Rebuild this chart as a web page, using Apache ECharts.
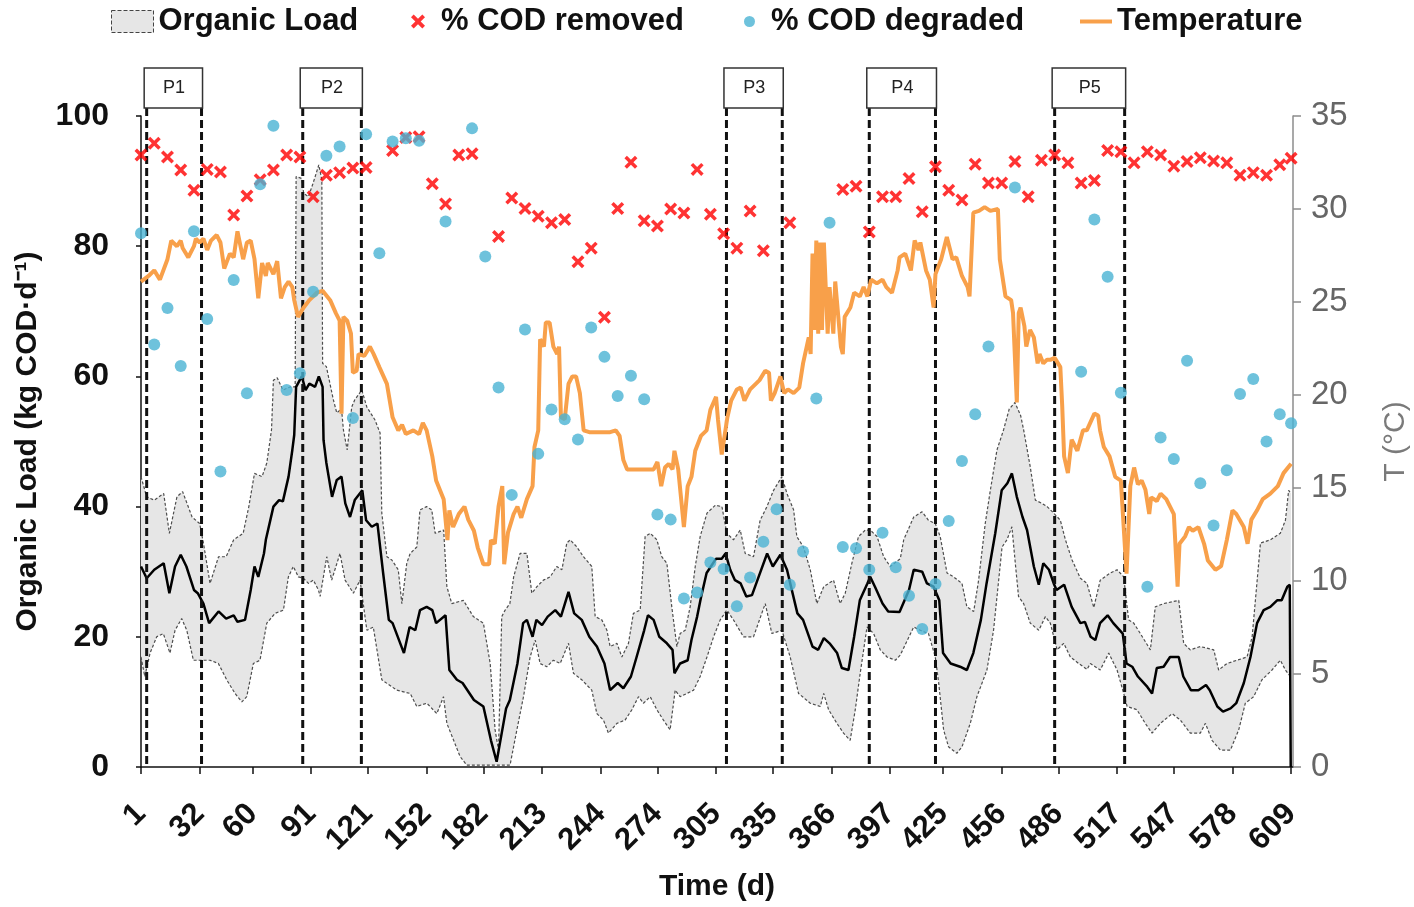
<!DOCTYPE html>
<html>
<head>
<meta charset="utf-8">
<script src="https://cdn.jsdelivr.net/npm/echarts@6/dist/echarts.min.js"></script>
<style>
  html, body { margin: 0; padding: 0; background: #fff; }
  #chart { width: 1414px; height: 907px; }
</style>
</head>
<body>
<div id="chart"></div>
<script>
// ---- data: [day, value] ----
const dayTicks = [1, 32, 60, 91, 121, 152, 182, 213, 244, 274, 305, 335, 366, 397, 425, 456, 486, 517, 547, 578, 609];

const periods = [
  { label: 'P1', start: 4, end: 33 },
  { label: 'P2', start: 86.5, end: 117.5 },
  { label: 'P3', start: 310.5, end: 340 },
  { label: 'P4', start: 386, end: 421 },
  { label: 'P5', start: 484, end: 521 }
];

// reactor temperature, °C
const temperature = [
  [1,26.1],[5,26.4],[8,26.7],[11,26.2],[15,27.3],[17,28.3],[20,28.0],[22,28.3],[23,27.9],[26,27.4],[29,28.0],[30,28.4],[32,28.2],[34,28.4],[36,27.8],[38,28.3],[41,28.6],[43,28.2],[45,26.8],[48,27.6],[50,27.4],[52,28.8],[55,27.3],[57,28.2],[59,28.3],[61,27.3],[63,25.2],[65,27.1],[67,26.4],[68,27.1],[71,26.5],[73,27.2],[75,25.2],[77,25.8],[79,26.1],[81,25.8],[82,25.1],[84,24.2],[87,24.7],[90,25.1],[94,25.5],[97,25.6],
  [101,25.1],[104,24.4],[106,24.0],[107,19.0],[108,24.2],[110,24.0],[112,23.3],[113,21.2],[115,21.3],[116,22.2],[119,22.1],[122,22.6],[124,22.2],[127,21.5],[131,20.6],[134,18.8],[137,18.1],[139,18.4],[141,17.9],[145,18.1],[148,17.9],[150,18.5],[152,18.1],[155,16.7],[157,15.4],[161,14.4],[163,12.2],[164,13.8],[166,12.9],[169,13.6],[172,14.0],[174,13.3],[177,12.7],[179,11.8],[182,10.9],[185,10.9],[186,12.2],[188,12.0],[190,14.0],[192,15.1],[193,10.9],[195,12.6],[198,13.6],
  [200,14.0],[202,13.4],[205,14.4],[208,15.1],[209,17.2],[211,18.1],[212,23.0],[214,22.6],[215,23.9],[217,23.9],[219,22.6],[221,22.2],[222,22.6],[223,18.8],[225,18.7],[227,20.6],[229,21.0],[231,21.0],[233,20.1],[235,18.1],[238,18.0],[249,18.0],[252,18.1],[254,17.8],[256,16.5],[258,16.0],[272,16.0],[274,16.4],[276,15.1],[278,16.1],[280,16.3],[282,16.0],[283,17.0],[285,16.0],[288,12.9],[290,15.1],[292,15.6],[294,17.0],[297,17.8],
  [300,18.1],[302,19.2],[305,19.9],[306,18.7],[308,16.8],[311,18.8],[313,19.7],[316,20.3],[318,20.4],[320,19.7],[323,20.3],[326,20.6],[328,20.8],[331,21.3],[333,21.2],[334,19.7],[336,20.1],[339,21.0],[341,20.1],[343,20.3],[346,20.1],[349,20.4],[351,21.7],[354,23.1],[355,22.2],[356,27.6],[357,23.5],[358,28.3],[359,23.3],[360,28.2],[361,23.5],[362,28.2],[364,23.3],[365,25.8],[367,23.3],[368,26.1],[371,22.6],[372,22.2],[373,24.2],[376,24.7],[378,25.5],[381,25.3],[383,25.8],[385,25.3],[387,26.2],[390,26.0],[393,26.2],[395,25.8],[398,25.5],
  [401,26.7],[402,27.4],[405,27.6],[408,26.7],[410,28.3],[412,27.8],[413,28.2],[416,26.7],[418,26.2],[420,24.7],[421,26.5],[424,27.3],[427,28.5],[430,27.3],[432,27.4],[435,26.4],[438,25.8],[439,25.3],[441,29.8],[444,29.9],[447,30.1],[450,29.9],[454,30.0],[455,27.3],[458,25.3],[461,25.1],[462,24.4],[464,19.6],[465,24.4],[466,24.7],[468,23.7],[469,22.6],[471,23.5],[473,23.1],[475,21.7],[476,22.2],[478,21.7],[480,21.9],[482,21.9],[484,22.0],[487,21.5],[488,19.4],[489,16.7],[491,15.8],[493,17.6],[496,17.0],[499,18.1],
  [501,18.1],[505,19.0],[507,18.9],[508,18.1],[510,17.2],[513,16.7],[516,15.6],[519,15.4],[520,15.5],[522,10.4],[524,15.1],[526,16.1],[528,15.2],[530,15.4],[532,14.9],[534,13.6],[535,14.5],[538,14.3],[540,14.7],[543,14.4],[547,13.6],[549,9.7],[550,12.0],[553,12.4],[555,12.9],[557,12.7],[560,12.9],[563,12.0],[565,11.1],[569,10.6],[572,10.8],[575,12.2],[578,13.8],[580,13.6],[584,12.9],[586,12.0],[588,13.3],[591,13.8],[594,14.4],[598,14.7],[602,15.1],[605,15.8],[609,16.3]
];

// organic load, kg COD/d : moving mean and its max / min envelope
const loadMean = [
  [1,30.8],[4,29.0],[8,30.3],[13,31.3],[16,26.7],[19,30.8],[22,32.6],[25,30.8],[29,27.2],[31,26.7],[34,25.1],[37,22.1],[42,23.9],[46,22.8],[50,23.3],[52,22.3],[56,22.6],[59,27.2],[61,30.8],[63,29.2],[66,32.8],[67,34.9],[71,40.0],[74,41.0],[76,40.8],[79,44.6],[81,48.7],[82,51.0],[83,58.4],[86,60.0],[88,57.9],[90,58.9],[93,58.4],[95,60.0],[97,58.4],[97.5,50.2],[99,46.7],
  [102,41.5],[104.5,44.1],[107,44.6],[109,40.5],[111.5,38.4],[114,41.0],[118,42.5],[120,37.9],[123,36.9],[126,37.4],[129,29.8],[132,22.6],[134,22.1],[140,17.5],[143,21.5],[146,21.0],[148.5,24.1],[152,24.6],[155,24.1],[157,22.1],[162,23.3],[164,14.9],[168,13.4],[171,12.9],[177,10.3],[182,9.3],[186,4.1],[189,0.8],[192,5.7],[194,9.0],[196,10.3],
  [200,15.9],[203,22.1],[205,22.6],[208,20.0],[210,22.6],[213,21.8],[216,23.1],[220,24.1],[223,23.1],[227,26.9],[230,23.6],[234,22.6],[238,20.0],[242,18.5],[246,15.9],[249,11.8],[253,12.9],[256,12.1],[260,13.9],[263,16.9],[267,21.0],[269,23.3],[272,22.6],[275,20.0],[279,19.0],[282,18.0],[283,14.4],[286,15.9],[290,16.4],[292,19.5],[295,23.1],[297,26.0],
  [300,29.8],[305,32.0],[308,32.0],[310,32.8],[312.5,30.3],[315,28.7],[318,28.2],[321,26.2],[324,26.4],[327.5,29.2],[332,32.8],[335,30.8],[339,32.6],[342.5,30.3],[348,23.6],[351,22.6],[356,18.5],[359,18.0],[362,19.8],[365,19.0],[369,17.5],[371.5,15.2],[375,14.9],[378,20.0],[381,25.6],[385,28.2],[386.5,29.2],[389,27.7],[393,25.1],[396,23.9],
  [402,23.8],[407,27.2],[409.5,30.3],[414,30.0],[416.5,28.2],[420,27.7],[423,25.6],[425,17.5],[429,15.9],[434,15.4],[437.6,14.9],[441,17.5],[445,22.6],[448,28.2],[452.6,35.9],[456,42.5],[459,43.6],[461.4,45.1],[464,41.5],[467,38.4],[469.4,36.4],[473,30.8],[475.6,28.0],[478,31.3],[481,30.3],[483.5,28.2],[485,27.2],[489,28.0],[493,24.6],[497.6,22.1],
  [500,22.3],[503,20.0],[505.5,19.5],[508,22.1],[512,23.3],[515,22.1],[520,20.5],[522,15.9],[525,15.4],[528,13.9],[533,12.3],[535.5,11.3],[538,15.2],[541.6,15.4],[545,16.9],[549.6,16.9],[552,13.9],[556,11.8],[560,11.8],[564,12.6],[566,11.8],[570,9.3],[573,8.5],[577,9.0],[580,9.8],[584,12.9],[587.5,16.9],[591,22.1],[594.5,24.1],[598,24.6],[601.6,25.6],[604,25.6],[607,27.7],[608.3,28.0],[608.8,0]
];

const loadMax = [
  [1,44.6],[4,41.5],[8,41.0],[13,42.0],[16,35.9],[20,41.5],[23,42.3],[28,38.4],[32,37.4],[34,34.4],[37.5,28.2],[42,32.3],[46,32.3],[50,34.9],[55,35.9],[58,40.0],[61,45.1],[65,44.6],[67.5,46.7],[70,51.8],[71,59.4],[73,59.8],[76,57.9],[80,58.4],[82.5,58.4],[83,90.7],[86,90.4],[87,88.1],[89.5,87.6],[92,89.7],[95,92.5],[96.6,90.2],[97,62.0],[99,61.5],
  [102.7,56.4],[104.5,54.4],[107,55.0],[108,51.8],[110,48.7],[112.4,55.3],[114,56.4],[117.7,57.9],[120.4,55.3],[124.7,53.3],[127.4,51.3],[128.3,39.0],[131,32.3],[133.6,31.8],[137,30.3],[138.9,25.1],[141.5,31.3],[143.3,32.8],[146.8,33.8],[148.5,39.5],[152,40.0],[154.7,39.5],[156.5,35.9],[161,36.4],[162.7,27.7],[165.3,25.1],[171.4,25.6],[176.7,23.1],[182,22.1],[185.6,15.9],[188.2,5.7],[190,2.6],[191.7,23.1],[193.5,24.1],[196,25.1],[198,29.2],
  [201.4,32.8],[205,32.8],[207.6,26.7],[210.3,27.7],[213.7,28.7],[217.3,29.2],[220.8,30.8],[223.5,30.3],[226.1,34.4],[227.9,34.9],[231.4,33.8],[234.9,32.3],[239.3,30.8],[241.1,23.1],[244.6,22.6],[247.3,21.0],[249,18.5],[252.6,19.0],[255.2,16.9],[258.7,19.0],[261.3,23.6],[264.9,24.1],[267.5,35.4],[270.2,35.9],[273.7,34.9],[276.3,32.3],[279,31.3],[281.6,24.6],[284.3,18.5],[286,20.5],[288.7,21.0],[291.3,24.6],[294,30.8],[296.6,35.4],
  [300.2,39.0],[304.6,40.2],[308.1,40.0],[310.7,35.9],[314.2,34.9],[317.8,36.4],[320.4,32.8],[324.8,32.3],[328.3,37.9],[331.9,40.0],[335.4,42.5],[339.8,44.6],[342.5,42.0],[346,39.5],[347.7,35.4],[351.2,33.8],[354.8,30.3],[358.3,25.1],[361.9,27.7],[367.1,28.7],[370.6,25.1],[373.3,26.7],[376.8,31.3],[380.3,35.4],[383.9,36.4],[386.5,36.4],[390.1,35.4],[393.6,32.3],[397.1,30.8],
  [402.4,32.0],[404.2,34.9],[409.5,38.4],[413.9,39.2],[417.3,37.9],[420.9,37.4],[423.5,35.4],[427.1,29.8],[430.6,29.2],[435,28.2],[437.6,24.6],[441.2,23.9],[443.8,28.7],[447.3,37.4],[450,42.5],[453.5,48.7],[457,51.8],[460,55.0],[463,56.0],[466,54.0],[467.6,51.8],[471.1,46.1],[473.8,41.0],[477.3,40.5],[480,40.0],[483.5,39.0],[487,37.9],[489.7,34.9],[493.2,31.8],[497.6,29.0],
  [501.1,28.2],[504.7,24.5],[508.1,28.7],[513.4,29.8],[517,30.3],[520.5,29.2],[523.1,22.6],[525.8,22.1],[529.3,20.5],[534.6,18.0],[537.2,24.6],[541.6,25.1],[549.6,25.6],[552.2,19.0],[555.7,18.0],[561,18.5],[568.1,18.0],[570.7,14.9],[575.1,15.9],[580.4,16.4],[585.7,16.9],[588.4,20.0],[592.8,34.4],[598.1,34.9],[603.3,35.9],[606,37.9],[607.7,42.5],[609,42.0]
];

const loadMin = [
  [1,16.9],[3,13.9],[5.8,17.5],[9.3,20.0],[12.8,20.5],[16.3,17.5],[19,21.0],[22.5,22.8],[25.2,21.0],[28.7,16.4],[33,16.4],[37.5,16.4],[41.9,15.9],[46.3,13.4],[50.7,11.3],[54.3,10.0],[56.9,10.8],[60.4,15.9],[63.9,16.4],[67.5,22.1],[71.9,23.6],[76.3,24.1],[78.9,29.2],[81.5,30.8],[84.2,29.2],[86.8,29.0],[89.5,28.2],[92.1,28.7],[94.8,27.2],[95.7,26.2],[99.2,32.3],
  [101.8,28.7],[106.2,32.8],[108.9,28.7],[113.3,26.7],[116.8,28.7],[120.4,21.0],[123.8,21.5],[128.3,13.4],[136.2,11.8],[143.3,11.3],[146.8,9.3],[152.1,9.8],[157.4,8.2],[160.9,10.8],[162.7,6.7],[169.7,1.6],[173.2,0.3],[196.1,0.3],[199.7,5.7],
  [203.2,10.8],[206.7,16.9],[209.4,19.5],[212,15.9],[215.5,15.4],[219,16.4],[222.6,15.9],[227,19.0],[229.6,14.4],[234,13.4],[239.3,11.8],[242,8.2],[245.5,7.2],[248.1,5.2],[252.6,6.7],[256.9,7.2],[260.5,8.8],[264,10.8],[266.6,9.8],[270.2,10.8],[273.7,8.8],[277.2,7.2],[280.7,5.7],[283.4,11.8],[286,10.8],[289.6,11.3],[293.1,11.8],[296.6,13.9],
  [300.2,16.9],[303.7,20.0],[307.2,22.6],[310.7,24.1],[314.2,22.6],[319.5,20.0],[324.8,20.0],[331,25.1],[334.5,20.5],[339.8,21.0],[344.2,16.9],[348.6,11.3],[354.8,9.8],[360.1,9.3],[361.9,11.3],[364.5,8.8],[368.9,6.7],[372.4,5.2],[375.9,4.1],[378.6,8.8],[381.2,14.4],[384.8,21.5],[388.3,20.5],[391.8,18.0],[395.4,16.9],[399.8,16.4],
  [402.4,17.2],[409.5,21.5],[413,21.0],[417.3,20.5],[420.9,16.9],[422.7,12.9],[425.3,5.7],[427.9,3.1],[432.3,2.1],[435,3.1],[439.4,6.7],[442.9,10.8],[448.2,14.9],[451.7,21.0],[456.2,33.8],[458.8,34.9],[461.4,36.9],[463.2,31.3],[464.9,26.2],[467.6,25.1],[471.1,22.1],[475.6,21.0],[479.1,23.1],[481.7,22.1],[485.3,18.0],[488.8,19.0],[492.3,16.9],[496.7,15.9],
  [501.1,15.0],[502.9,15.9],[508.1,14.9],[512.6,17.5],[517,14.9],[520.5,11.3],[522.3,9.3],[527.5,8.8],[531.9,6.7],[535.5,5.2],[539.9,6.7],[546.1,8.2],[550.5,7.2],[555.7,5.2],[561,5.2],[563.7,6.7],[567.2,4.1],[571.6,2.6],[576.9,2.6],[581.3,5.7],[584.8,9.8],[589.2,10.8],[593.6,13.4],[598.9,14.9],[603.3,16.4],[606,14.9],[608.6,13.9]
];

// weekly samples, %
const codRemoved = [
  [1,94.0],[8,95.8],[15,93.7],[22,91.7],[29,88.6],[36,91.8],[43,91.4],[50,84.8],[57,87.7],[64,90.2],[71,91.7],[78,94.0],[85,93.7],[92,87.6],[99,90.9],[106,91.3],[113,92.0],[120,92.1],[134,94.7],[141,96.7],[148,96.8],[155,89.6],[162,86.5],[169,94.0],[176,94.2],[190,81.5],[197,87.4],
  [204,85.8],[211,84.6],[218,83.6],[225,84.1],[232,77.6],[239,79.7],[246,69.1],[253,85.8],[260,92.9],[267,83.9],[274,83.1],[281,85.7],[288,85.1],[295,91.8],[302,84.9],[309,81.9],[316,79.7],[323,85.4],[330,79.3],[344,83.6],[372,88.7],[379,89.2],[386,82.2],[393,87.6],
  [400,87.6],[407,90.4],[414,85.3],[421,92.2],[428,88.6],[435,87.1],[442,92.6],[449,89.7],[456,89.7],[463,93.0],[470,87.6],[477,93.2],[484,94.0],[491,92.8],[498,89.7],[505,90.1],[512,94.7],[519,94.5],[526,92.8],[533,94.5],[540,94.0],[547,92.3],[554,93.0],[561,93.6],[568,93.1],[575,92.8],[582,90.9],[589,91.3],[596,90.9],[603,92.5],[609,93.5]
];

const codDegraded = [
  [1,82.0],[8,64.9],[15,70.5],[22,61.6],[29,82.3],[36,68.8],[43,45.4],[50,74.8],[57,57.4],[64,89.5],[71,98.5],[78,57.9],[85,60.5],[92,73.0],[99,93.9],[106,95.3],[113,53.6],[120,97.2],[127,78.9],[134,96.1],[141,96.6],[148,96.2],[162,83.8],[176,98.1],[183,78.4],[190,58.3],[197,41.8],
  [204,67.2],[211,48.1],[218,54.9],[225,53.4],[232,50.3],[239,67.5],[246,63.0],[253,57.0],[260,60.1],[267,56.5],[274,38.8],[281,38.0],[288,25.9],[295,26.8],[302,31.4],[309,30.4],[316,24.7],[323,29.1],[330,34.6],[337,39.6],[344,28.0],[351,33.1],[358,56.6],[365,83.6],[372,33.8],[379,33.6],[386,30.3],[393,36.0],
  [400,30.7],[407,26.3],[414,21.2],[421,28.1],[428,37.8],[435,47.0],[442,54.2],[449,64.6],[463,89.0],[498,60.7],[505,84.1],[512,75.3],[519,57.5],[533,27.7],[540,50.6],[547,47.3],[554,62.4],[561,43.6],[568,37.1],[575,45.6],[582,57.3],[589,59.6],[596,50.0],[603,54.2],[609,52.8]
];

// ---- styling ----
const FONT = '"Liberation Sans", Arial, sans-serif';
const ORANGE = '#f8a04a';
const AQUA = '#4ab3d3';
const RED = '#ff0000';
const CROSS = 'path://M1.9,0L5,3.1L8.1,0L10,1.9L6.9,5L10,8.1L8.1,10L5,6.9L1.9,10L0,8.1L3.1,5L0,1.9Z';

const chart = echarts.init(document.getElementById('chart'), null, { renderer: 'canvas' });

const legendText = { fontFamily: FONT, fontSize: 31, fontWeight: 'bold', color: '#111' };

const option = {
  animation: false,
  backgroundColor: '#fff',
  grid: { left: 141, right: 121, top: 116, bottom: 140, outerBoundsMode: 'none' },
  legend: [
    {
      left: 111, top: 6, padding: 0, selectedMode: false,
      itemWidth: 42, itemHeight: 22,
      textStyle: legendText,
      data: [{ name: 'Organic Load', icon: 'rect',
        itemStyle: { color: '#e6e6e6', borderColor: '#444', borderWidth: 1, borderType: 'dashed' } }]
    },
    {
      left: 411, top: 6, padding: 0, selectedMode: false,
      itemWidth: 14, itemHeight: 14,
      textStyle: Object.assign({}, legendText, { padding: [0, 0, 0, 11] }),
      data: [{ name: '% COD removed', icon: CROSS }]
    },
    {
      left: 744, top: 6, padding: 0, selectedMode: false,
      itemWidth: 11, itemHeight: 11,
      textStyle: Object.assign({}, legendText, { padding: [0, 0, 0, 11] }),
      data: [{ name: '% COD degraded', icon: 'circle' }]
    },
    {
      left: 1080, top: 6, padding: 0, selectedMode: false,
      itemWidth: 32, itemHeight: 4,
      textStyle: legendText,
      data: [{ name: 'Temperature', icon: 'rect' }]
    }
  ],
  xAxis: {
    type: 'value', min: 1, max: 610,
    name: 'Time (d)', nameLocation: 'middle', nameGap: 105,
    nameTextStyle: { fontFamily: FONT, fontSize: 30, fontWeight: 'bold', color: '#111' },
    axisLine: { show: true, lineStyle: { color: '#111', width: 1.5 } },
    axisTick: { show: true, length: 7, customValues: dayTicks, lineStyle: { color: '#111', width: 1.5 } },
    axisLabel: {
      customValues: dayTicks, rotate: 45, margin: 42,
      fontFamily: FONT, fontSize: 31, fontWeight: 'bold', color: '#111'
    },
    splitLine: { show: false }
  },
  yAxis: [
    {
      type: 'value', min: 0, max: 100, interval: 20, position: 'left',
      name: 'Organic Load (kg COD·d⁻¹)', nameLocation: 'middle', nameRotate: 90, nameGap: 98,
      nameTextStyle: { fontFamily: FONT, fontSize: 30, fontWeight: 'bold', color: '#111' },
      axisLine: { show: true, lineStyle: { color: '#111', width: 1.5 } },
      axisTick: { show: true, length: 5, lineStyle: { color: '#111', width: 1.5 } },
      axisLabel: { margin: 32, fontFamily: FONT, fontSize: 32, fontWeight: 'bold', color: '#111' },
      splitLine: { show: false }
    },
    {
      type: 'value', min: 0, max: 35, interval: 5, position: 'right',
      name: 'T (°C)', nameLocation: 'middle', nameRotate: 90, nameGap: 88,
      nameTextStyle: { fontFamily: FONT, fontSize: 30, color: '#7a7a7a' },
      axisLine: { show: true, lineStyle: { color: '#8c8c8c', width: 1.5 } },
      axisTick: { show: true, length: 8, lineStyle: { color: '#8c8c8c', width: 1.5 } },
      axisLabel: { margin: 18, fontFamily: FONT, fontSize: 33, color: '#666' },
      splitLine: { show: false }
    }
  ],
  series: [
    {
      // shaded envelope between daily max and min organic load
      type: 'custom', name: 'Organic Load', z: 1, silent: true,
      data: [[1, 0]], encode: { x: 0, y: 1 },
      itemStyle: { color: '#e6e6e6', borderColor: '#444', borderWidth: 1, borderType: 'dashed' },
      renderItem: function (params, api) {
        const pts = loadMax.map(p => api.coord(p))
          .concat(loadMin.slice().reverse().map(p => api.coord(p)));
        return { type: 'polygon', shape: { points: pts }, style: { fill: '#e6e6e6' } };
      }
    },
    {
      type: 'line', name: 'Organic Load max', data: loadMax, z: 2, silent: true,
      showSymbol: false, lineStyle: { color: '#4d4d4d', width: 1.2, type: [3, 2] }
    },
    {
      type: 'line', name: 'Organic Load min', data: loadMin, z: 2, silent: true,
      showSymbol: false, lineStyle: { color: '#4d4d4d', width: 1.2, type: [3, 2] }
    },
    {
      type: 'line', name: 'Organic Load mean', data: loadMean, z: 3, silent: true,
      showSymbol: false, lineStyle: { color: '#000', width: 2.5 }
    },
    {
      type: 'line', name: 'Temperature', yAxisIndex: 1, data: temperature, z: 4, silent: true,
      showSymbol: false, itemStyle: { color: ORANGE }, lineStyle: { color: ORANGE, width: 4 }
    },
    {
      type: 'scatter', name: '% COD removed', data: codRemoved, z: 5, silent: true,
      symbol: CROSS, symbolSize: 13, itemStyle: { color: RED }
    },
    {
      type: 'scatter', name: '% COD degraded', data: codDegraded, z: 6, silent: true,
      symbol: 'circle', symbolSize: 12, itemStyle: { color: AQUA }
    }
  ]
};

chart.setOption(option);

// experimental periods: dashed boundaries with a labelled box on top
function periodGraphics() {
  const yTop = chart.convertToPixel({ yAxisIndex: 0 }, 100);
  const yBot = chart.convertToPixel({ yAxisIndex: 0 }, 0);
  const els = [];
  periods.forEach(p => {
    const x1 = chart.convertToPixel({ xAxisIndex: 0 }, p.start);
    const x2 = chart.convertToPixel({ xAxisIndex: 0 }, p.end);
    [x1, x2].forEach(x => {
      els.push({
        type: 'line', z: 4, silent: true,
        shape: { x1: x, y1: yTop - 8, x2: x, y2: yBot },
        style: { stroke: '#111', lineWidth: 3, lineDash: [8, 4] }
      });
    });
    els.push({
      type: 'rect', z: 4, silent: true,
      shape: { x: x1 - 2.5, y: yTop - 48, width: (x2 - x1) + 3.5, height: 40 },
      style: { fill: '#fff', stroke: '#333', lineWidth: 1.5 }
    });
    els.push({
      type: 'text', z: 5, silent: true,
      x: (x1 + x2) / 2, y: yTop - 28,
      style: { text: p.label, fontFamily: FONT, fontSize: 18, fill: '#222', align: 'center', verticalAlign: 'middle' }
    });
  });
  chart.setOption({ graphic: els });
}
periodGraphics();
</script>
</body>
</html>
